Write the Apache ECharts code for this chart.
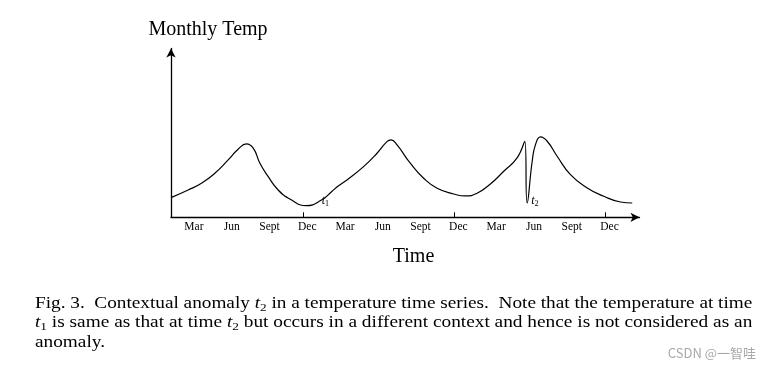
<!DOCTYPE html>
<html>
<head>
<meta charset="utf-8">
<script src="https://cdn.jsdelivr.net/npm/echarts@6/dist/echarts.min.js"></script>
<style>
html,body{margin:0;padding:0;background:#fff;}
#chart{width:771px;height:370px;}
</style>
</head>
<body>
<div id="chart"></div>
<script>
// ---- data (month index: Dec of year 1 = 12) ----
const months = [1.5, 2.86, 3.92, 4.98, 6.04, 6.83, 7.49, 8.03, 8.56, 9.22, 10.01, 10.97, 12.25, 13.45, 14.25, 14.78,
  15.47, 16.79, 17.86, 18.65, 18.97, 19.45, 20.50, 21.56, 22.63, 23.94, 24.87, 25.80, 26.86, 27.92, 28.98, 29.59,
  29.78, 30.18, 30.44, 30.84, 31.37, 32.16, 33.22, 34.55, 35.87, 37.19, 38.12];
const temps = [4.16, 5.76, 7.18, 9.29, 12.10, 14.36, 15.47, 14.57, 11.40, 8.57, 5.76, 3.80, 2.45, 3.65, 5.40, 6.61,
  7.87, 10.68, 13.51, 15.96, 16.32, 15.26, 11.40, 8.23, 6.12, 4.92, 4.50, 5.07, 7.03, 9.71, 12.52, 16.04,
  3.02, 11.82, 15.33, 16.95, 16.04, 12.88, 8.99, 6.19, 4.43, 3.23, 3.02];
const labelMonths = [3, 6, 9, 12, 15, 18, 21, 24, 27, 30, 33, 36];
const tickLabels = ['Mar', 'Jun', 'Sept', 'Dec', 'Mar', 'Jun', 'Sept', 'Dec', 'Mar', 'Jun', 'Sept', 'Dec'];
const tickMonths = [12, 24, 36];
const annotNames = ['1', '2'];
const annotMonths = [13.15, 29.78];
const annotTemps = [3.0, 3.02];
const yTitle = 'Monthly Temp';
const xTitle = 'Time';
const captionLines = [
  [['n', 'Fig. 3.  Contextual anomaly '], ['i', 't'], ['s', '2'], ['n', ' in a temperature time series.  Note that the temperature at time']],
  [['i', 't'], ['s', '1'], ['n', ' is same as that at time '], ['i', 't'], ['s', '2'], ['n', ' but occurs in a different context and hence is not considered as an']],
  [['n', 'anomaly.']]
];
const watermark = 'CSDN @一智哇';

// ---- layout ----
const SERIF = 'Liberation Serif';
const capSize = 16, subSize = 11;
const capLeft = 35, capRight = 752.3;
const capTops = [294, 313, 332.5];

const cv = document.createElement('canvas').getContext('2d');
function measure(line) {
  let w = 0;
  line.forEach(([k, s]) => {
    if (k === 'n') cv.font = capSize + 'px ' + SERIF;
    else if (k === 'i') cv.font = 'italic ' + capSize + 'px ' + SERIF;
    else cv.font = subSize + 'px ' + SERIF;
    w += cv.measureText(s).width;
  });
  return w;
}
function toRich(line) {
  return line.map(([k, s]) => '{' + k + '|' + s + '}').join('');
}
const scales = captionLines.map(l => (capRight - capLeft) / measure(l));
scales[2] = (scales[0] + scales[1]) / 2;

const richCap = {
  n: {fontFamily: SERIF, fontSize: capSize, lineHeight: 20, verticalAlign: 'middle', color: '#000'},
  i: {fontFamily: SERIF, fontSize: capSize, fontStyle: 'italic', lineHeight: 20, verticalAlign: 'middle', color: '#000'},
  s: {fontFamily: SERIF, fontSize: subSize, lineHeight: 12, verticalAlign: 'bottom', color: '#000'}
};

const graphics = [
  {type: 'text', x: 208, y: 30, style: {text: yTitle, fontFamily: SERIF, fontSize: 20, fill: '#000', align: 'center', verticalAlign: 'middle'}},
  {type: 'text', x: 413.5, y: 256.5, style: {text: xTitle, fontFamily: SERIF, fontSize: 20, fill: '#000', align: 'center', verticalAlign: 'middle'}},
  {type: 'text', x: 756, y: 353, style: {text: watermark, fontFamily: 'Noto Sans CJK SC', fontSize: 13, fill: '#a8a8a8', align: 'right', verticalAlign: 'middle'}}
];
captionLines.forEach((l, i) => {
  graphics.push({
    type: 'text', x: capLeft, y: capTops[i], scaleX: scales[i], originX: 0, originY: 0,
    style: {text: toRich(l), rich: richCap, align: 'left', verticalAlign: 'top'}
  });
});

const chart = echarts.init(document.getElementById('chart'), null, {renderer: 'canvas'});
chart.setOption({
  animation: false,
  backgroundColor: '#fff',
  grid: {left: 171, right: 131.5, top: 48.5, bottom: 152.7, containLabel: false},
  xAxis: {
    type: 'value', min: 1.5, max: 38.7,
    axisLine: {show: true, onZero: true, symbol: ['none', 'arrow'], symbolSize: [7, 9], lineStyle: {color: '#000', width: 1.3}},
    axisTick: {show: true, inside: true, length: 5, customValues: tickMonths, lineStyle: {color: '#000', width: 1}},
    axisLabel: {
      show: true, customValues: labelMonths, margin: 4, padding: [0, 0, 0, 8],
      fontFamily: SERIF, fontSize: 11.5, color: '#000',
      formatter: v => tickLabels[labelMonths.indexOf(v)] || ''
    },
    splitLine: {show: false}
  },
  yAxis: {
    type: 'value', min: 0, max: 35.6,
    axisLine: {show: true, symbol: ['none', 'arrow'], symbolSize: [7, 9], lineStyle: {color: '#000', width: 1.3}},
    axisTick: {show: false}, axisLabel: {show: false}, splitLine: {show: false}
  },
  series: [{
    type: 'line',
    data: months.map((m, i) => [m, temps[i]]),
    smooth: 0.5,
    showSymbol: false, symbol: 'none',
    lineStyle: {color: '#000', width: 1.2},
    markPoint: {
      symbol: 'circle', symbolSize: 0,
      itemStyle: {color: 'transparent'},
      label: {
        show: true, position: 'right', distance: 4, offset: [0, -2],
        formatter: p => '{t|t}{s|' + p.name + '}',
        rich: {
          t: {fontFamily: SERIF, fontSize: 12, fontStyle: 'italic', color: '#000', lineHeight: 14, verticalAlign: 'middle'},
          s: {fontFamily: SERIF, fontSize: 8, color: '#000', lineHeight: 8, verticalAlign: 'bottom'}
        }
      },
      data: annotNames.map((n, i) => ({name: n, coord: [annotMonths[i], annotTemps[i]]}))
    }
  }],
  graphic: graphics
});
</script>
</body>
</html>
